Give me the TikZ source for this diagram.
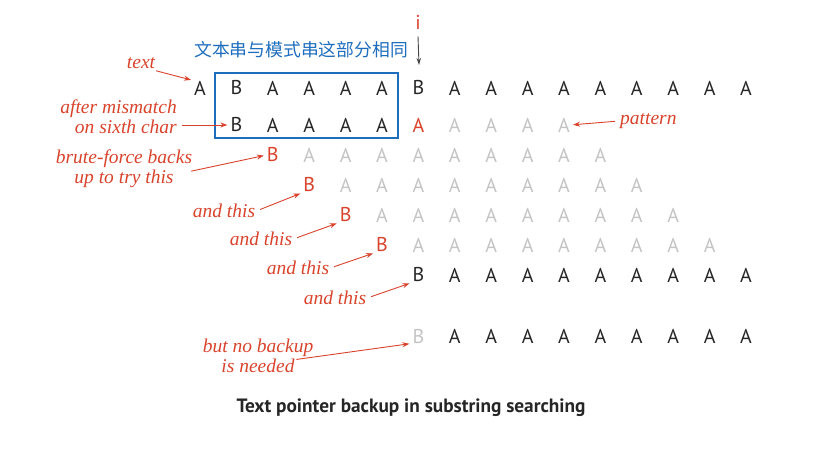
\documentclass[tikz,border=0pt]{standalone}
\usepackage{fontspec}
\setmainfont{Liberation Serif}
\newfontfamily\charfont{PT Sans}
\newfontfamily\cjkfont{Noto Sans CJK SC}
\usetikzlibrary{arrows.meta,positioning}
\definecolor{notered}{HTML}{D9432C}
\definecolor{boxblue}{HTML}{1F6EBD}
\definecolor{ghost}{HTML}{C4C4C4}
\definecolor{ink}{HTML}{262626}
\tikzset{
chr/.style={inner sep=0pt,anchor=center,text=ink,font=\charfont\fontsize{20}{20}\selectfont},
ghostchr/.style={chr,text=ghost},
redchr/.style={chr,text=notered},
note/.style={inner sep=1pt,align=center,text=notered,font=\itshape\fontsize{19.5}{20}\selectfont},
notearr/.style={draw=notered,line width=0.9pt,-{Stealth[length=7pt,width=5pt]},shorten >=3pt,shorten <=4pt},
ptrarr/.style={draw=ink!85,line width=0.9pt,-{Stealth[length=7pt,width=4.5pt]}}
}
\begin{document}
\begin{tikzpicture}[x=1pt,y=-1pt]
\useasboundingbox (0,0) rectangle (827,454);
% text
\foreach \c/\l in {0/A,1/B,2/A,3/A,4/A,5/A,6/B,7/A,8/A,9/A,10/A,11/A,12/A,13/A,14/A,15/A}
  \node[chr] (t\c) at ({200+36.4*\c},88) {\l};
% pattern at first try
\node[chr] (p1) at ({200+36.4*1},125) {B};
\foreach \c in {2,...,5}
  \node[chr] (p\c) at ({200+36.4*\c},125) {A};
\node[redchr] (p6) at ({200+36.4*6},125) {A};
\foreach \c in {7,...,10}
  \node[ghostchr] (p\c) at ({200+36.4*\c},125) {A};
% backed up tries
\foreach \r/\y in {3/155,4/185,5/215,6/245}{
  \pgfmathtruncatemacro{\s}{\r-1}
  \node[redchr] (b\r) at ({200+36.4*\s},\y) {B};
  \foreach \k in {1,...,9}
    \node[ghostchr] at ({200+36.4*(\s+\k)},\y) {A};
}
\node[chr] (b7) at ({200+36.4*6},275) {B};
\foreach \c in {7,...,15}
  \node[chr] at ({200+36.4*\c},275) {A};
% no backup
\node[ghostchr] (b8) at ({200+36.4*6},336) {B};
\foreach \c in {7,...,15}
  \node[chr] at ({200+36.4*\c},336) {A};

% matched part
\draw[boxblue,line width=1.8pt] (215,73) rectangle (398,138);
\node[text=boxblue,inner sep=0pt,font=\cjkfont\fontsize{17.8}{17.8}\selectfont] (same) at (301,50) {文本串与模式串这部分相同};
\node[redchr] (ptr) at (418,22) {i};
\coordinate (ptrtip) at (419,65);
\draw[ptrarr] ([yshift=-7pt]ptr.south) -- (ptrtip);

% notes
\node[note] (ntext) at (141,63) {text};
\node[note,align=right,anchor=east] (nmis) at (178,117) {after mismatch\\on sixth char};
\node[note] (nbrute) at (124,169) {brute-force backs\\up to try this};
\node[note] (nand4) at (224,211) {and this};
\node[note] (nand5) at (261,239) {and this};
\node[note] (nand6) at (298,268) {and this};
\node[note] (nand7) at (335,298) {and this};
\node[note] (nnone) at (258,356) {but no backup\\is needed};
\node[note,anchor=west] (npat) at (619,121) {pattern};

\draw[notearr] ([xshift=-4pt]ntext.south east) -- (t0.north west);
\draw[notearr] ([yshift=-8pt]nmis.east) -- (p1.west);
\draw[notearr] ([xshift=-6pt,yshift=-3pt]nbrute.east) -- (b3.west);
\draw[notearr] (nand4.east) -- (b4.south west);
\draw[notearr] (nand5.east) -- (b5.south west);
\draw[notearr] (nand6.east) -- (b6.south west);
\draw[notearr] (nand7.east) -- (b7.south west);
\draw[notearr] ([xshift=-22pt,yshift=-4pt]nnone.east) -- (b8.south west);
\draw[notearr] (npat.west) -- (p10.east);

\node[inner sep=0pt,text=ink,font=\charfont\bfseries\fontsize{19.3}{19.3}\selectfont] (caption) at (411,408) {Text pointer backup in substring searching};
\end{tikzpicture}
\end{document}
